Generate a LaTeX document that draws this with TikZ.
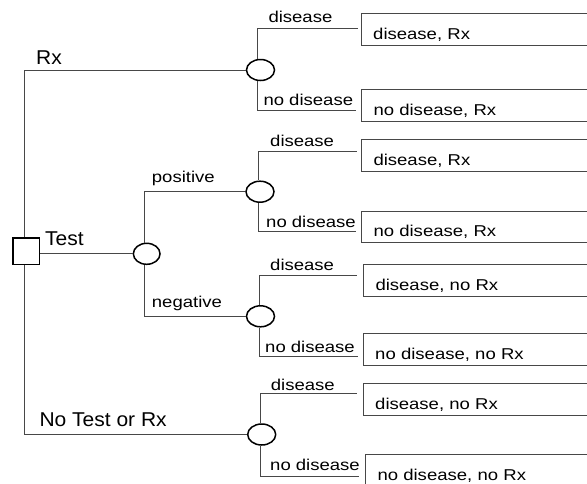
\documentclass[tikz,border=0pt]{standalone}
\usepackage{fontspec}
\setmainfont{Liberation Sans}
\newfontfamily\smallfont[FakeStretch=1.18]{Liberation Sans}
\newfontfamily\bigfont[FakeStretch=1.05]{Liberation Sans}
\usetikzlibrary{shapes.geometric}

\begin{document}
\begin{tikzpicture}[x=1pt,y=-1pt,
  branch/.style={draw=black!72, line width=1pt},
  chance/.style={ellipse, draw=black, line width=1.5pt, fill=white,
    minimum width=28pt, minimum height=21pt, inner sep=0pt},
  choice/.style={rectangle, draw=black, line width=1.5pt, fill=white,
    minimum size=26.5pt, inner sep=0pt},
  outcome/.style={rectangle, draw=black!72, line width=1pt, anchor=north west,
    inner xsep=12pt, inner ysep=0pt, text width=240pt, align=left,
    text height=25.5pt, text depth=6pt,
    font=\smallfont\fontsize{15.7pt}{18pt}\selectfont},
  lbl/.style={anchor=base west, inner sep=0pt,
    font=\smallfont\fontsize{15.7pt}{18pt}\selectfont},
  biglbl/.style={anchor=base west, inner sep=0pt,
    font=\bigfont\fontsize{20pt}{24pt}\selectfont},
]
\clip (0,0) rectangle (587,483);
\fill[white] (0,0) rectangle (587,483);

% outcome boxes (open to the right)
\node[outcome] (b1) at (360.7,13.3)  {disease, Rx};
\node[outcome] (b2) at (361,89.3)    {no disease, Rx};
\node[outcome] (b3) at (361,139.3)   {disease, Rx};
\node[outcome] (b4) at (361,210.7)   {no disease, Rx};
\node[outcome] (b5) at (363,264.3)   {disease, no Rx};
\node[outcome] (b6) at (362.7,333.3) {no disease, no Rx};
\node[outcome] (b7) at (362.7,383.3) {disease, no Rx};
\node[outcome] (b8) at (365,454)     {no disease, no Rx};

% free ends of the outcome branches
\coordinate (d1) at (357.5,28.3);
\coordinate (n1) at (356,110);
\coordinate (d2) at (357,151.7);
\coordinate (n2) at (356,231.7);
\coordinate (d3) at (357.3,275);
\coordinate (n3) at (358.3,356);
\coordinate (d4) at (357,393.3);
\coordinate (n4) at (359.3,476);

% trunk of the decision
\coordinate (tt) at (24,70);
\coordinate (tb) at (24,434.5);

% chance nodes
\node[chance] (c1) at (260.5,70)   {};
\node[chance] (c2) at (260,191.7)  {};
\node[chance] (c3) at (260.5,316.3){};
\node[chance] (c4) at (261.7,434.5){};
\node[chance, minimum width=26.7pt] (ct) at (146.7,253.8) {};

% decision branches
\draw[branch] (c1) -- (tt) -- (tb) -- (c4);
\node[choice] (d) at (26,251.3) {};
\draw[branch] (d.east |- ct.center) -- (ct);
\draw[branch] ([xshift=-2.4pt]ct.north) |- (c2);
\draw[branch] ([xshift=-2.4pt]ct.south) |- (c3);

% outcome branches
\draw[branch] ([xshift=-3.3pt]c1.north) |- (d1);
\draw[branch] ([xshift=-3.3pt]c1.south) |- (n1);
\draw[branch] ([xshift=-1.8pt]c2.north) |- (d2);
\draw[branch] ([xshift=-1.8pt]c2.south) |- (n2);
\draw[branch] ([xshift=-1.3pt]c3.north) |- (d3);
\draw[branch] ([xshift=-1.3pt]c3.south) |- (n3);
\draw[branch] ([xshift=-0.8pt]c4.north) |- (d4);
\draw[branch] ([xshift=-0.8pt]c4.south) |- (n4);

% branch labels
\node[biglbl] (lrx)   at (36,64)     {Rx};
\node[biglbl] (ltest) at (45,245)    {Test};
\node[biglbl] (lno)   at (39.3,426)  {No Test or Rx};
\node[lbl] (lpos) at (151.7,182.5) {positive};
\node[lbl] (lneg) at (151.7,307.5) {negative};

\node[lbl] (ld1) at (268.3,22.7)  {disease};
\node[lbl] (ln1) at (263.3,105.3) {no disease};
\node[lbl] (ld2) at (270,146.7)   {disease};
\node[lbl] (ln2) at (266,227.7)   {no disease};
\node[lbl] (ld3) at (270,270.7)   {disease};
\node[lbl] (ln3) at (265,352.7)   {no disease};
\node[lbl] (ld4) at (270.7,390)   {disease};
\node[lbl] (ln4) at (270,470.7)   {no disease};
\end{tikzpicture}
\end{document}
